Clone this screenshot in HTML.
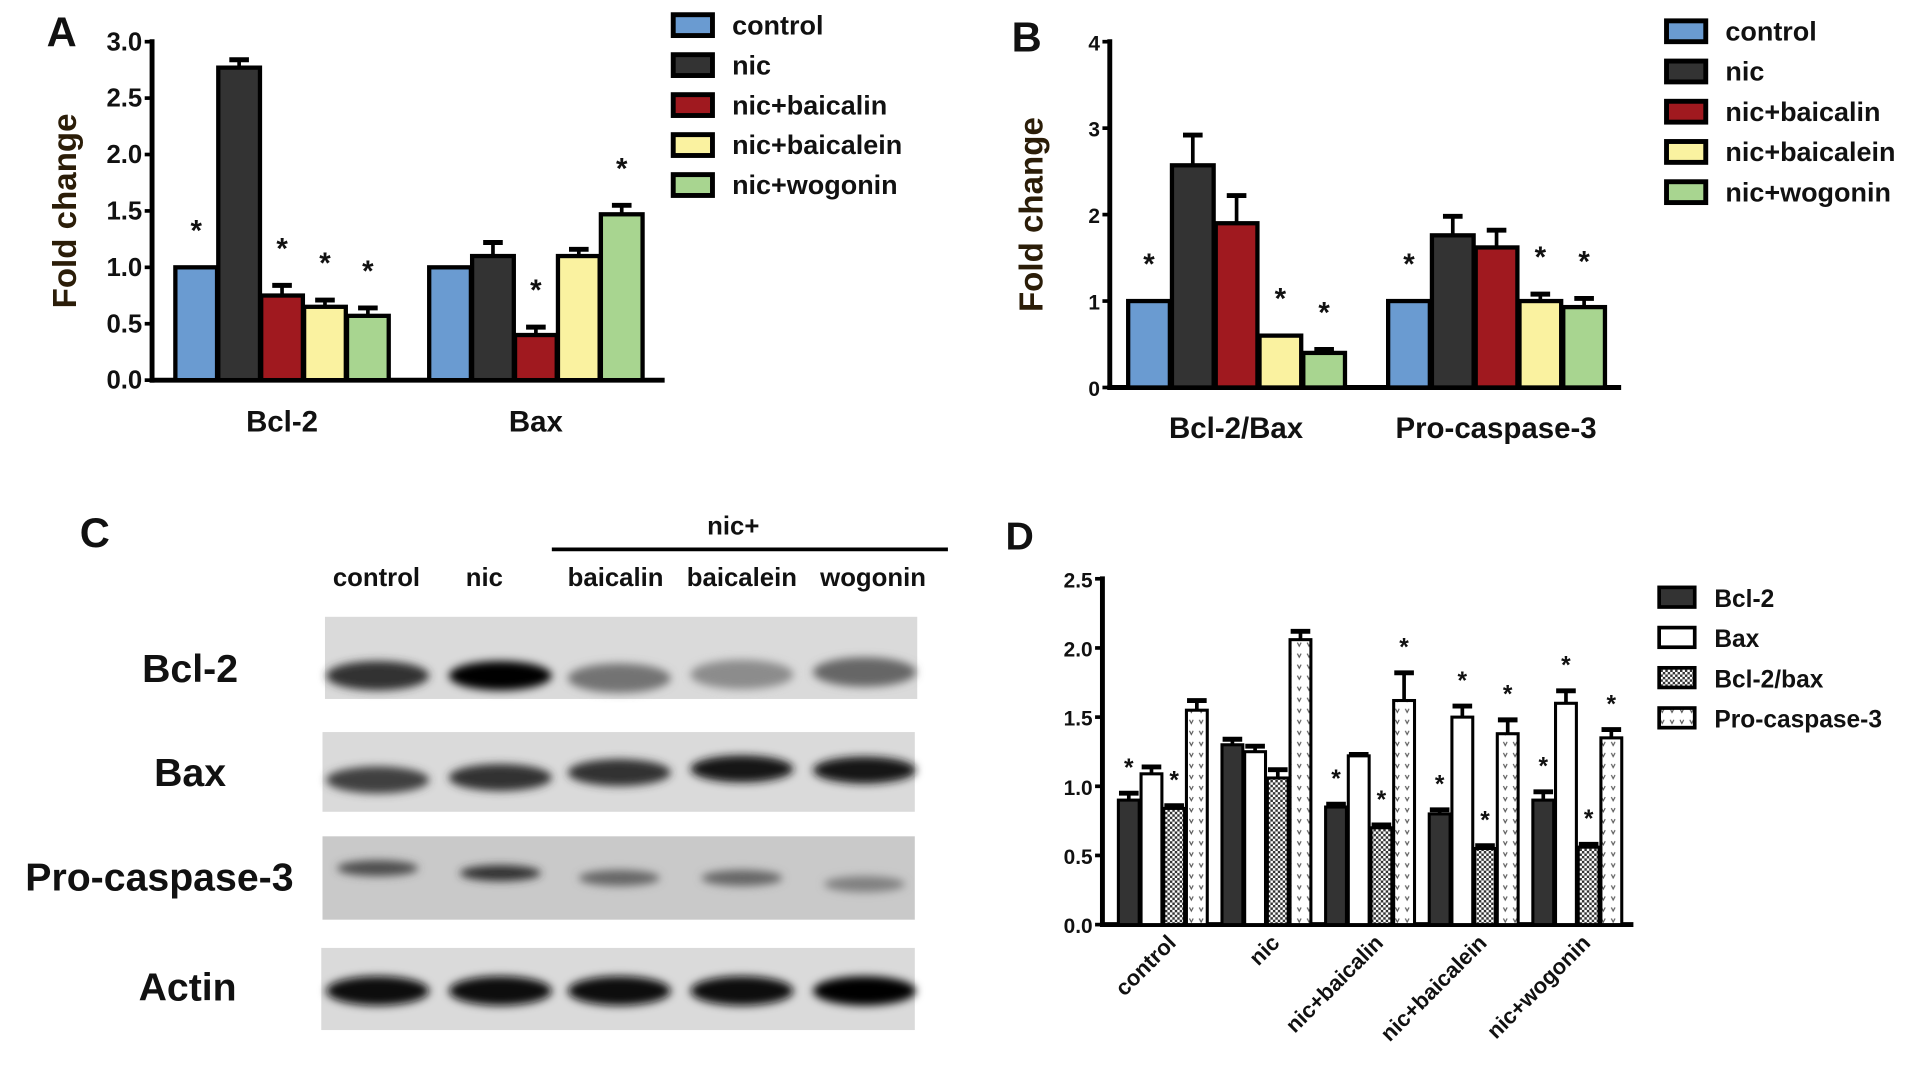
<!DOCTYPE html>
<html><head><meta charset="utf-8"><style>
html,body{margin:0;padding:0;background:#fff;width:1913px;height:1072px;overflow:hidden}
svg{display:block}
text{font-family:"Liberation Sans",Arial,sans-serif;font-weight:bold}
</style></head><body>
<svg id="fig" xmlns="http://www.w3.org/2000/svg" width="1913" height="1072" viewBox="0 0 1560 874.2" preserveAspectRatio="none">
<defs>
<pattern id="chk" width="4" height="4" patternUnits="userSpaceOnUse"><rect width="4" height="4" fill="#fff"/><rect width="2" height="2" fill="#333"/><rect x="2" y="2" width="2" height="2" fill="#333"/></pattern>
<pattern id="vdot" width="8" height="9" patternUnits="userSpaceOnUse"><rect width="8" height="9" fill="#fff"/><path d="M2 2 L3.5 5 L5 2" stroke="#555" stroke-width="0.9" fill="none"/></pattern>
<filter id="blur" x="-30%" y="-100%" width="160%" height="300%"><feGaussianBlur stdDeviation="3.5"/></filter>
</defs>
</svg>
<script>
// Panel A data
const aCats=["Bcl-2","Bax"];
const aSeries=["control","nic","nic+baicalin","nic+baicalein","nic+wogonin"];
const aVals=[[1,2.77,0.75,0.65,0.57],[1,1.1,0.4,1.1,1.47]];
const aErr=[[0,0.07,0.09,0.06,0.07],[0,0.12,0.07,0.06,0.08]];
const aStar=[[1,0,1,1,1],[0,0,1,0,1]];
const aTicks=["0.0","0.5","1.0","1.5","2.0","2.5","3.0"];
// Panel B data
const bCats=["Bcl-2/Bax","Pro-caspase-3"];
const bVals=[[1,2.57,1.9,0.6,0.4],[1,1.76,1.62,1.0,0.93]];
const bErr=[[0,0.35,0.32,0,0.04],[0,0.22,0.2,0.08,0.1]];
const bStar=[[1,0,0,1,1],[1,0,0,1,1]];
const bTicks=["0","1","2","3","4"];
// Panel D data
const dCats=["control","nic","nic+baicalin","nic+baicalein","nic+wogonin"];
const dSeries=["Bcl-2","Bax","Bcl-2/bax","Pro-caspase-3"];
const dVals=[[0.9,1.09,0.84,1.55],[1.3,1.25,1.06,2.06],[0.85,1.22,0.7,1.62],[0.8,1.5,0.55,1.38],[0.9,1.6,0.56,1.35]];
const dErr=[[0.05,0.05,0.02,0.07],[0.04,0.04,0.06,0.06],[0.02,0.01,0.02,0.2],[0.03,0.08,0.02,0.1],[0.06,0.09,0.02,0.06]];
const dStar=[[1,0,1,0],[0,0,0,0],[1,0,1,1],[1,1,1,1],[1,1,1,1]];
const dTicks=["0.0","0.5","1.0","1.5","2.0","2.5"];
// Panel C blot data
const lanes=["control","nic","baicalin","baicalein","wogonin"];
const proteins=["Bcl-2","Bax","Pro-caspase-3","Actin"];
const intensity=[[0.8,1.0,0.55,0.45,0.6],[0.75,0.8,0.8,0.9,0.9],[0.7,0.8,0.6,0.6,0.5],[0.95,0.95,0.95,0.95,1.0]];

const NS="http://www.w3.org/2000/svg";
const svg=document.getElementById('fig');
function mk(tag,attrs,parent){const e=document.createElementNS(NS,tag);for(const k in attrs)e.setAttribute(k,attrs[k]);(parent||svg).appendChild(e);return e;}
function txt(x,y,s,size,anchor,parent,fill){const t=mk('text',{x:x,y:y,'font-size':size,'text-anchor':anchor||'start',fill:fill||'#111'},parent);t.textContent=s;return t;}

const colorsA=["#6a9bd1","#333333","#a0191f","#faf2a0","#a8d590"];

function barChart(o){
  const g=mk('g',{});
  
  
  const yS=v=>o.y0-(v/o.max)*(o.y0-o.yTop);
  const ya=mk('line',{x1:o.x0,y1:o.yTop-2,x2:o.x0,y2:o.y0+2,stroke:'#000','stroke-width':4},g);
  
  
  const xa=mk('line',{x1:o.x0-2,y1:o.y0,x2:o.xEnd,y2:o.y0,stroke:'#000','stroke-width':4},g);
  
  
  o.ticks.forEach((tl,i)=>{
    const v=i*o.max/(o.ticks.length-1);const y=yS(v);
    mk('line',{x1:o.x0-6,y1:y,x2:o.x0,y2:y,stroke:'#000','stroke-width':3},g);
    const t=txt(o.x0-8,y+7,tl,o.tickSize,'end',g);
    
    
  });
  o.vals.forEach((grp,gi)=>{
    grp.forEach((v,si)=>{
      const x=o.gx(gi,si);const y=yS(v);
      const e=o.err[gi][si];
      if(e>0){
        const ey=yS(v+e);
        mk('line',{x1:x+o.bw/2,y1:y,x2:x+o.bw/2,y2:ey,stroke:'#000','stroke-width':3},g);
        mk('line',{x1:x+o.bw/2-8,y1:ey,x2:x+o.bw/2+8,y2:ey,stroke:'#000','stroke-width':4},g);
      }
      const r=mk('rect',{x:x,y:y,width:o.bw,height:o.y0-y,fill:o.fill(si),stroke:'#000','stroke-width':o.sw},g);
      
      
      if(o.star[gi][si]){
        const s=txt(x+o.bw/2,yS(v+e)-o.starOff,'*',o.starSize,'middle',g);
        
        
      }
    });
  });
  return {g:g,yS:yS};
}

// ---- Panel A ----
{
  const A=barChart({name:'panel-a-chart',x0:124,y0:310,yTop:34,xEnd:542,max:3,ticks:aTicks,tickSize:21,
    vals:aVals,err:aErr,star:aStar,cats:aCats,series:aSeries,bw:34,sw:3.5,starOff:22,starSize:24,
    gx:(g,s)=>143+g*207+s*35,fill:s=>colorsA[s]});
  aCats.forEach((c,i)=>{const t=txt(143+i*207+87,352,c,24,'middle',A.g);
    
    });
  const yt=txt(0,0,'Fold change',27,'middle',A.g,'#2b1d08');yt.setAttribute('transform','translate(62,172) rotate(-90)');
  
  
  const L=txt(38,38,'A',34,'start');
  aSeries.forEach((s,i)=>{const y=20+i*32.6;
    const r=mk('rect',{x:549,y:y-8,width:32,height:17,fill:colorsA[i],stroke:'#000','stroke-width':4});
    
    
    const t=txt(597,y+8,s,22,'start');
    
    });
}
// ---- Panel B ----
{
  const B=barChart({name:'panel-b-chart',x0:905,y0:316,yTop:34,xEnd:1322,max:4,ticks:bTicks,tickSize:17,
    vals:bVals,err:bErr,star:bStar,cats:bCats,series:aSeries,bw:34,sw:3.5,starOff:22,starSize:24,
    gx:(g,s)=>920+g*212+s*35.7,fill:s=>colorsA[s]});
  bCats.forEach((c,i)=>{const t=txt(920+i*212+88,357,c,24,'middle',B.g);
    
    });
  const yt=txt(0,0,'Fold change',27,'middle',B.g,'#2b1d08');yt.setAttribute('transform','translate(850,175) rotate(-90)');
  
  
  const L=txt(825,42,'B',34,'start');
  aSeries.forEach((s,i)=>{const y=25+i*32.8;
    const r=mk('rect',{x:1359,y:y-8,width:32,height:17,fill:colorsA[i],stroke:'#000','stroke-width':4});
    
    
    const t=txt(1407,y+8,s,22,'start');
    
    });
}
// ---- Panel D ----
{
  const dFill=["#333333","#ffffff","url(#chk)","url(#vdot)"];
  const D=barChart({name:'panel-d-chart',x0:899,y0:754,yTop:472,xEnd:1332,max:2.5,ticks:dTicks,tickSize:17,
    vals:dVals,err:dErr,star:dStar,cats:dCats,series:dSeries,bw:17,sw:2.5,starOff:14,starSize:20,
    gx:(g,s)=>912+g*84.5+s*18.5,fill:s=>dFill[s]});
  dCats.forEach((c,i)=>{const cx=912+i*84.5+40;const t=txt(0,0,c,18,'end',D.g);
    t.setAttribute('transform','translate('+(cx+8)+',770) rotate(-45)');
    
    });
  const L=txt(820,448,'D',32,'start');
  dSeries.forEach((s,i)=>{const y=487+i*32.8;
    const r=mk('rect',{x:1353,y:y-8,width:29,height:16,fill:dFill[i],stroke:'#000','stroke-width':3});
    
    
    const t=txt(1398,y+8,s,20,'start');
    
    });
}
// ---- Panel C: western blot ----
{
  const g=mk('g',{});
  
  
  const L=txt(65,446,'C',34,'start',g);
  const n=txt(598,436,'nic+',21,'middle',g);
  mk('line',{x1:450,y1:448,x2:773,y2:448,stroke:'#000','stroke-width':3},g);
  const laneX=[308,408,505,605,705];
  const lblX=[307,395,502,605,712];
  lanes.forEach((l,i)=>{const t=txt(lblX[i],478,l,21,'middle',g);
    
    });
  const strips=[[265,503,483,67],[263,597,483,65],[263,682,483,68],[262,773,484,67]];
  const bandY=[[551,551,553,550,548],[636,634,630,627,628],[708,712,716,716,721],[808,808,808,808,808]];
  const rowLblX=[155,155,130,153];const rowLblY=[556,641,726,816];
  proteins.forEach((p,r)=>{
    const s=strips[r];
    const bg=mk('rect',{x:s[0],y:s[1],width:s[2],height:s[3],fill:r==2?'#c9c9c9':'#dadada'},g);
    
    
    intensity[r].forEach((v,i)=>{
      const shade=Math.round(255*(1-v));
      const h=r==2?9:(r==1?18:20);
      const e=mk('ellipse',{cx:laneX[i],cy:bandY[r][i],rx:r==2?33:42,ry:h/2+2,fill:'rgb('+shade+','+shade+','+shade+')',filter:'url(#blur)'},g);
      
      
    });
    const t=txt(rowLblX[r],rowLblY[r],p,32,'middle',g);
    t.setAttribute('font-family','"DejaVu Sans",sans-serif');
    
    
  });
}
</script>
</body></html>
